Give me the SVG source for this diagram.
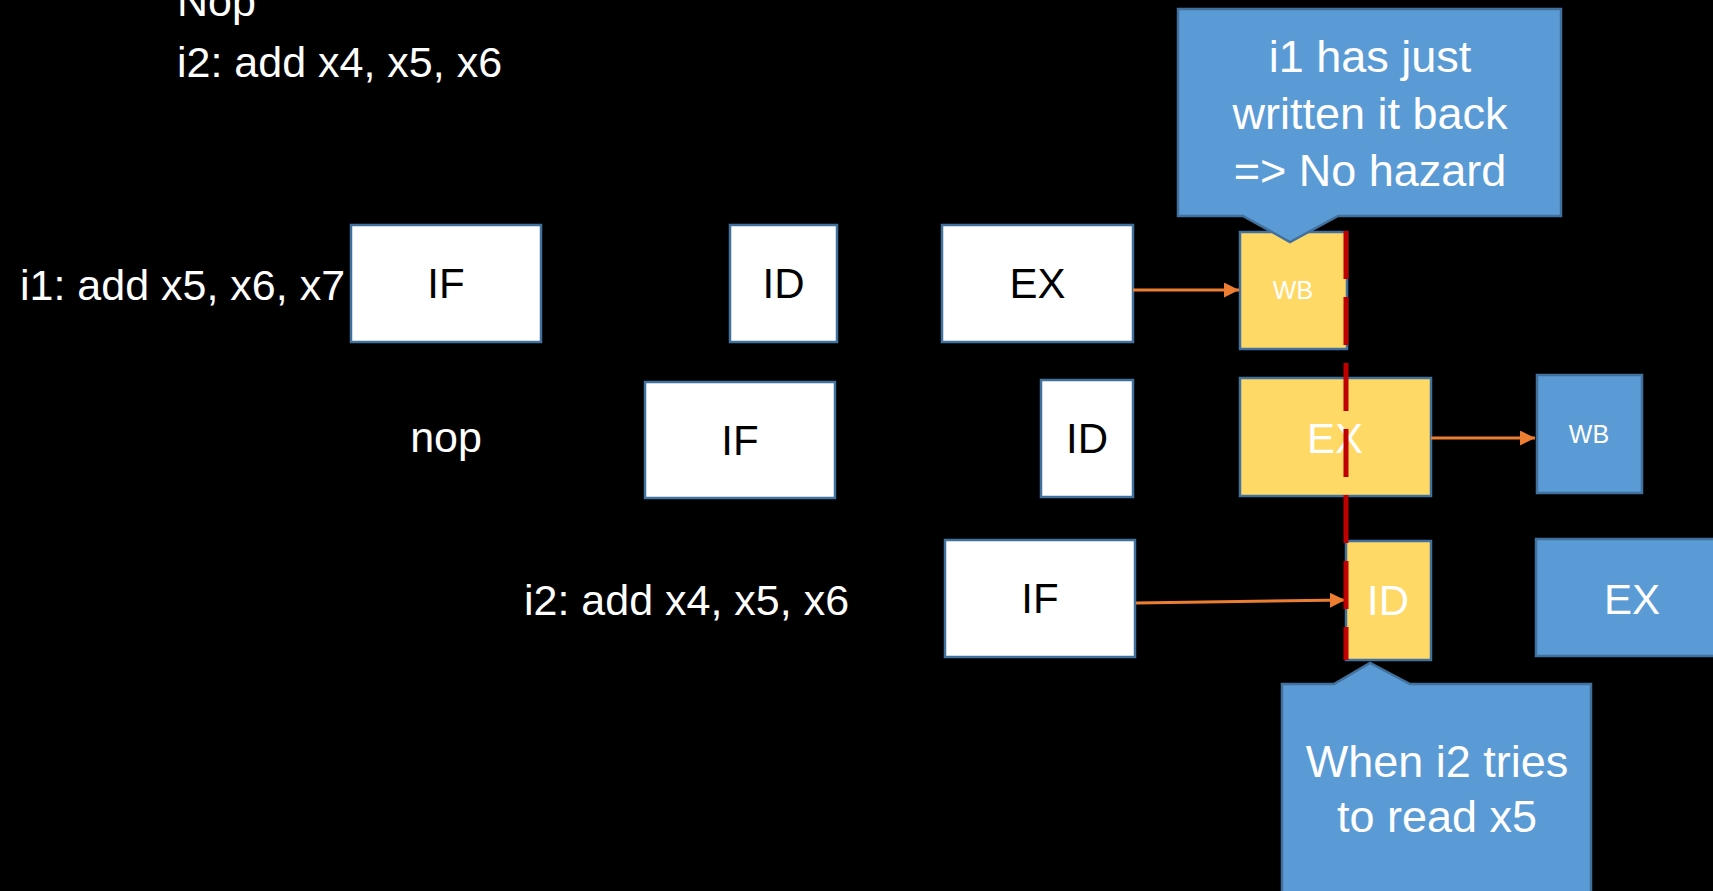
<svg xmlns="http://www.w3.org/2000/svg" width="1713" height="891" viewBox="0 0 1713 891">
<defs>
<marker id="ah" viewBox="0 0 10 10" refX="10" refY="5" markerWidth="5" markerHeight="5" orient="auto" markerUnits="strokeWidth"><path d="M0,0 L10,5 L0,10 Z" fill="#ED7D31"/></marker>
<style>
text{font-family:"Liberation Sans",Arial,sans-serif;}
.lbl{fill:#fff;font-size:43px;}
.wbox{fill:#fff;stroke:#41719C;stroke-width:2.5;}
.ybox{fill:#FFD966;stroke:#41719C;stroke-width:2.5;}
.bbox{fill:#5B9BD5;stroke:#41719C;stroke-width:2.5;}
.bt{fill:#000;font-size:42px;text-anchor:middle;}
.wt{fill:#fff;font-size:42px;text-anchor:middle;}
.st{fill:#fff;font-size:25px;text-anchor:middle;}
.ct{fill:#fff;font-size:45px;text-anchor:middle;}
.arr{stroke:#ED7D31;stroke-width:3;fill:none;marker-end:url(#ah);}
</style>
</defs>
<rect width="1713" height="891" fill="#000"/>
<g id="code">
<text class="lbl" x="177" y="16">Nop</text>
<text class="lbl" x="177" y="77">i2: add x4, x5, x6</text>
</g>
<g id="row1-label"><text class="lbl" x="20" y="300">i1: add x5, x6, x7</text></g>
<g id="r1-if"><rect class="wbox" x="351" y="225" width="190" height="117"/><text class="bt" x="446" y="298">IF</text></g>
<g id="r1-id"><rect class="wbox" x="730" y="225" width="107" height="117"/><text class="bt" x="783.5" y="298">ID</text></g>
<g id="r1-ex"><rect class="wbox" x="942" y="225" width="191" height="117"/><text class="bt" x="1037.5" y="298">EX</text></g>
<g id="r1-wb"><rect class="ybox" x="1240" y="232" width="107" height="117"/><text class="st" x="1293" y="299">WB</text></g>
<g id="row2-label"><text class="lbl" x="446" y="452" text-anchor="middle">nop</text></g>
<g id="r2-if"><rect class="wbox" x="645" y="382" width="190" height="116"/><text class="bt" x="740" y="455">IF</text></g>
<g id="r2-id"><rect class="wbox" x="1041" y="380" width="92" height="117"/><text class="bt" x="1087" y="453">ID</text></g>
<g id="r2-ex"><rect class="ybox" x="1240" y="378" width="191" height="118"/><text class="wt" x="1335" y="453">EX</text></g>
<g id="r2-wb"><rect class="bbox" x="1537" y="375" width="105" height="118"/><text class="st" x="1589" y="443">WB</text></g>
<g id="row3-label"><text class="lbl" x="524" y="615">i2: add x4, x5, x6</text></g>
<g id="r3-if"><rect class="wbox" x="945" y="540" width="190" height="117"/><text class="bt" x="1040" y="613">IF</text></g>
<g id="r3-id"><rect class="ybox" x="1346" y="541" width="85" height="119"/><text class="wt" x="1388" y="615">ID</text></g>
<g id="r3-ex"><rect class="bbox" x="1536" y="539" width="190" height="117"/><text class="wt" x="1632" y="614">EX</text></g>
<g id="connectors">
<line class="arr" x1="1133" y1="290" x2="1239" y2="290"/>
<line class="arr" x1="1431" y1="438" x2="1535" y2="438"/>
<line class="arr" x1="1136" y1="603" x2="1345" y2="600"/>
</g>
<g id="boundary"><line x1="1346" y1="231" x2="1346" y2="660" stroke="#C00000" stroke-width="5" stroke-dasharray="48 18"/></g>
<g id="callout1">
<path d="M1178,9 H1561 V216 H1338 L1290,242 L1243,216 H1178 Z" fill="#5B9BD5" stroke="#41719C" stroke-width="2.5"/>
<text class="ct" x="1370" y="72">i1 has just</text>
<text class="ct" x="1370" y="129">written it back</text>
<text class="ct" x="1370" y="186">=&gt; No hazard</text>
</g>
<g id="callout2">
<path d="M1282,684 H1334 L1370,663 L1410,684 H1591 V900 H1282 Z" fill="#5B9BD5" stroke="#41719C" stroke-width="2.5"/>
<text class="ct" x="1437" y="777">When i2 tries</text>
<text class="ct" x="1437" y="832">to read x5</text>
</g>
</svg>
